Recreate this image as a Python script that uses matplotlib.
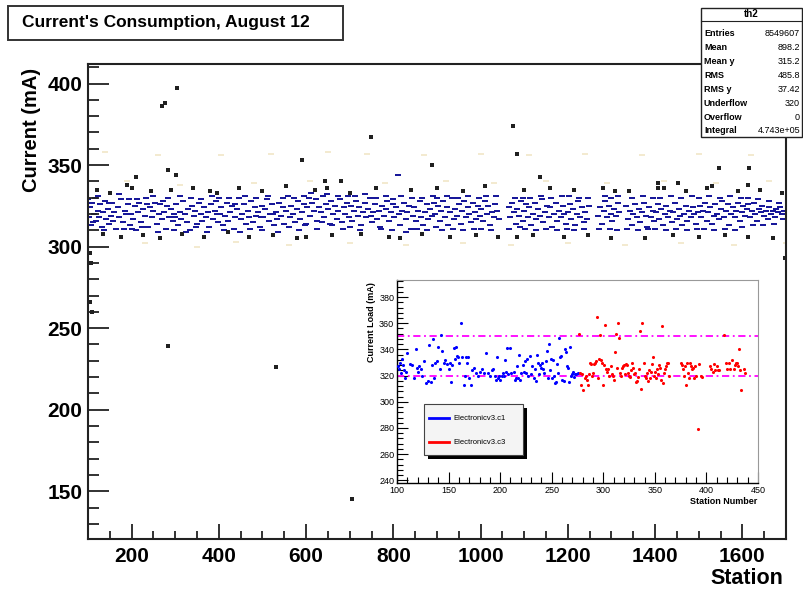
import matplotlib
matplotlib.use("Agg")
import matplotlib.pyplot as plt
from matplotlib.patches import Rectangle
from matplotlib.ticker import MultipleLocator
from matplotlib.lines import Line2D

plt.rcParams['font.family'] = ['Liberation Sans', 'DejaVu Sans']

# ---- main 2D histogram: occupied cells (station, current in mA) ----
navy_pts = [
    (102,318),(105,324),(108,313),(110,327),(113,320),(116,330),(119,316),(122,322),(125,318),(128,326),
    (131,312),(134,321),(138,328),(141,317),(145,323),(149,314),(152,319),(156,327),(160,321),(164,311),
    (168,324),(172,318),(176,329),(180,315),(184,322),(188,320),(192,326),(196,313),(199,320),
    (203,317),(207,325),(210,310),(214,321),(218,327),(222,315),(226,323),(230,319),(234,330),(238,312),
    (242,324),(246,318),(250,322),(254,327),(258,314),(262,320),(266,326),(270,317),(274,321),(278,311),
    (282,325),(286,318),(290,323),(294,316),(298,320),
    (302,326),(306,313),(310,321),(314,317),(318,328),(322,320),(326,315),(330,323),(334,310),(338,325),
    (342,319),(346,322),(350,314),(354,327),(358,320),(362,316),(366,324),(370,318),(374,321),(378,312),
    (382,326),(386,317),(390,322),(394,328),(398,315),
    (402,320),(406,324),(410,313),(414,319),(418,327),(422,316),(426,321),(430,325),(434,311),(438,318),
    (442,323),(446,330),(450,317),(454,320),(458,326),(462,314),(466,322),(470,318),(474,328),(478,315),
    (482,324),(486,319),(490,321),(494,312),(498,325),
    (502,318),(506,323),(510,329),(514,316),(518,320),(522,326),(526,313),(530,321),(534,317),(538,327),
    (542,319),(546,324),(550,314),(554,322),(558,331),(562,318),(566,325),(570,320),(574,315),(578,323),
    (582,328),(586,317),(590,321),(594,326),(598,313),
    (602,324),(606,330),(610,319),(614,327),(618,322),(622,329),(626,316),(630,324),(634,321),(638,331),
    (642,318),(646,326),(650,323),(654,314),(658,328),(662,320),(666,325),(670,317),(674,322),(678,329),
    (682,315),(686,324),(690,320),(694,327),(698,318),
    (702,325),(706,316),(710,322),(714,328),(718,319),(722,324),(726,313),(730,321),(734,327),(738,318),
    (742,323),(746,330),(750,315),(754,321),(758,326),(762,317),(766,322),(770,312),(774,325),(778,319),
    (782,323),(786,328),(790,316),(794,321),(798,326),
    (802,318),(806,324),(810,344),(812,320),(816,313),(820,322),(824,327),(828,317),(832,321),(836,325),
    (840,311),(844,319),(848,324),(852,316),(856,322),(860,328),(864,318),(868,313),(872,321),(876,326),
    (880,317),(884,323),(888,319),(892,327),(896,320),
    (902,325),(906,316),(910,322),(914,328),(918,318),(922,324),(926,313),(930,321),(934,330),(938,317),
    (942,323),(946,319),(950,326),(954,314),(958,322),(962,328),(966,318),(970,324),(974,320),(978,315),
    (982,327),(986,321),(990,317),(994,325),(998,319),
    (1002,323),(1006,316),(1010,328),(1014,320),(1018,325),(1022,313),(1026,321),(1030,318),(1034,326),
    (1038,322),(1042,317),(1064,324),(1068,318),(1072,327),(1076,321),(1080,314),(1084,323),(1088,319),
    (1092,328),(1096,316),
    (1100,322),(1104,326),(1108,318),(1112,324),(1116,313),(1120,320),(1124,327),(1128,317),(1132,323),
    (1136,319),(1140,329),(1144,315),(1148,321),(1152,325),(1156,318),(1160,324),(1164,312),(1168,320),
    (1172,327),(1176,316),(1180,322),(1184,318),(1188,325),(1192,320),(1196,314),
    (1200,321),(1204,326),(1208,317),(1212,323),(1216,313),(1220,320),(1224,328),(1228,318),(1232,324),
    (1236,315),(1240,321),(1244,317),(1248,325),(1270,319),(1274,324),(1278,314),(1282,322),(1286,328),
    (1290,318),(1294,325),(1298,320),
    (1302,316),(1306,323),(1310,319),(1314,327),(1318,321),(1334,325),(1338,317),(1342,322),(1346,313),
    (1350,320),(1354,326),(1358,318),(1362,323),(1366,315),(1370,321),(1374,327),(1378,319),(1382,312),
    (1386,324),(1390,318),(1394,322),(1398,316),
    (1402,321),(1406,326),(1410,317),(1414,323),(1418,313),(1422,320),(1426,325),(1430,318),(1434,322),
    (1438,315),(1442,321),(1446,327),(1450,317),(1454,323),(1458,319),(1462,313),(1466,320),(1470,325),
    (1474,316),(1478,322),(1482,318),(1486,324),(1490,320),(1494,314),(1498,321),
    (1502,325),(1506,318),(1510,322),(1514,327),(1518,316),(1522,321),(1526,324),(1530,314),(1534,319),
    (1538,326),(1542,320),(1546,317),(1550,323),(1554,328),(1558,318),(1562,322),(1566,326),(1570,313),
    (1574,320),(1578,324),(1582,318),(1586,322),(1590,327),(1594,316),(1598,321),
    (1602,325),(1606,319),(1610,323),(1614,326),(1618,318),(1622,322),(1626,327),(1630,320),(1634,316),
    (1638,323),(1642,321),(1646,325),(1650,319),(1654,322),(1658,317),(1662,324),(1666,320),(1670,322),
    (1674,318),(1678,323),(1682,321),(1686,324),(1690,320),(1694,317),
    # sparser cells at the edges of the band
    (100,329),(112,315),(124,331),(136,310),(148,327),(158,316),(170,332),(182,311),(194,329),
    (200,311),(212,329),(224,312),(236,326),(248,331),(260,309),(272,328),(284,330),(296,310),
    (300,318),(312,331),(324,309),(336,330),(348,312),(360,329),(372,309),(384,331),(396,320),
    (400,330),(412,310),(424,330),(436,326),(448,309),(460,331),(472,311),(484,330),(496,318),
    (500,310),(512,331),(524,320),(536,309),(548,330),(560,312),(572,330),(584,310),(596,331),
    (600,314),(612,333),(624,311),(636,315),(648,332),(660,313),(672,331),(684,311),(696,331),
    (700,312),(712,331),(724,310),(736,332),(748,319),(760,330),(772,311),(784,331),(796,310),
    (800,329),(818,331),(830,309),(842,330),(854,311),(866,330),(878,310),(890,331),(898,312),
    (900,330),(912,310),(924,331),(936,311),(948,330),(960,310),(972,331),(984,311),(996,330),
    (1000,311),(1012,331),(1024,310),(1036,331),(1066,311),(1078,330),(1090,312),(1098,330),
    (1102,311),(1114,330),(1126,310),(1138,331),(1150,311),(1162,330),(1174,310),(1186,331),(1198,311),
    (1202,331),(1214,310),(1226,330),(1238,311),(1246,330),(1272,311),(1284,331),(1296,311),
    (1300,330),(1312,310),(1316,331),(1336,311),(1348,330),(1360,310),(1372,331),(1384,311),(1396,330),
    (1400,311),(1412,330),(1424,310),(1436,331),(1448,311),(1460,330),(1472,310),(1484,331),(1496,311),
    (1500,330),(1512,311),(1524,331),(1536,310),(1548,330),(1560,311),(1572,331),(1584,310),(1596,330),
    (1600,312),(1612,330),(1624,313),(1636,329),(1648,313),(1660,328),(1672,314),(1684,327),(1696,322),
]

black_pts = [
    (104,296),(106,290),(104,266),(110,260),(270,386),(276,388),(304,397),(283,347),(301,344),(283,239),
    (210,343),(189,338),(380,334),(531,226),(590,353),(644,340),(648,336),(705,145),(749,367),(889,350),
    (1075,374),(1083,357),(1137,343),(1309,334),(1453,339),(1407,339),(1407,336),(1531,337),(1547,348),
    (1616,348),(1612,338),(1698,293),
    (120,335),(135,308),(150,333),(175,306),(200,336),(225,307),(245,334),(265,305),(290,335),(315,308),
    (340,336),(365,306),(395,333),(420,309),(445,336),(470,306),(500,334),(525,307),(555,337),(580,305),
    (599,306),(620,335),(660,307),(680,340),(700,333),(725,308),(760,336),(790,306),(816,305),(840,335),
    (865,308),(900,336),(930,306),(960,334),(990,307),(1010,337),(1040,306),(1084,306),(1100,335),
    (1120,307),(1160,336),(1190,306),(1215,335),(1245,307),(1280,336),(1300,305),(1340,334),(1377,305),
    (1420,336),(1440,307),(1470,334),(1500,306),(1520,336),(1560,307),(1590,334),(1612,306),(1640,335),
    (1670,305),(1690,333),
]

pale_pts = [
    (140,358),(190,340),(230,302),(260,356),(310,338),(350,300),(405,356),(440,303),(480,339),(520,357),
    (560,301),(610,340),(650,358),(700,302),(740,357),(780,339),(830,301),(870,356),(920,340),(960,302),
    (1000,357),(1030,339),(1070,301),(1110,356),(1150,340),(1200,302),(1240,357),(1290,339),(1330,301),
    (1370,356),(1420,340),(1460,302),(1500,357),(1540,339),(1580,301),(1620,356),(1660,340),(1700,302),
]

# ---- inset: current load per station, two electronics versions ----
c1_pts = [
    (101,327),(102,325),(103,330),(104,322),(105,333),(106,328),(107,324),(108,318),(109,323),(110,337),
    (113,329),(115,328),(116,318),(118,340),(119,326),(120,323),(121,327),(123,325),(124,320),(126,331),
    (128,314),(130,316),(131,343),(133,315),(134,328),(135,348),(136,318),(137,330),(139,331),(140,342),
    (142,325),(143,351),(144,339),(146,330),(147,332),(148,329),(150,325),(151,330),(152,315),(153,328),
    (155,341),(156,333),(157,342),(158,335),(159,334),(160,330),
    (162,360),(163,334),(165,313),(166,320),(167,334),(168,330),(169,334),(170,318),(172,313),(173,324),
    (175,326),(177,322),(179,320),(180,323),
    (182,325),(184,322),(186,337),(188,322),(190,320),(192,324),(193,325),(195,320),(196,317),(197,334),
    (198,318),(199,320),(200,317),
    (202,320),(203,322),(204,320),(205,332),(206,323),(207,341),(208,321),(210,341),(211,322),(213,323),
    (214,317),(215,318),(216,327),(217,318),(218,336),(219,317),(220,322),
    (222,328),(223,323),(224,331),(225,322),(226,333),(227,320),(229,335),(230,321),(231,327),(233,318),
    (234,325),(235,316),(236,336),(237,330),(238,321),(239,328),(240,326),
    (241,330),(242,325),(243,322),(244,331),(245,339),(246,318),(247,344),(248,324),(249,333),(250,318),
    (251,332),(252,320),(253,314),(254,315),(255,329),(256,322),(257,349),(258,334),(259,335),(260,317),
    (262,316),(263,340),(264,338),(265,327),(266,326),(267,315),(268,342),(269,320),(270,321),(271,323),
    (272,319),(273,321),(274,321),(275,322),
]

c3_pts = [
    (276,352),(277,322),(278,313),(279,321),(280,309),(282,318),(283,320),(284,317),(285,313),(286,321),
    (287,330),(288,329),(289,320),(290,322),(291,329),(292,330),(293,331),(294,365),(295,318),(296,333),
    (297,351),(298,332),(299,330),(300,313),(301,328),(302,359),(303,325),(304,323),(305,325),(306,320),
    (307,327),(308,321),(309,320),(310,317),(311,338),(312,352),(313,326),(314,360),(315,349),(316,322),
    (317,320),(318,326),(319,327),(320,328),(321,321),(322,329),(323,328),(324,322),(325,320),(326,319),
    (327,324),(328,330),(329,326),(330,321),(331,322),(332,315),(333,316),(334,319),(335,325),(336,354),
    (337,310),(338,360),(339,330),(340,320),(341,318),(342,322),(343,316),(344,324),(345,318),(346,323),
    (347,329),(348,334),(349,320),(350,323),(351,318),(352,325),(353,321),(354,328),(355,326),(356,317),
    (357,358),(358,314),(359,322),(360,325),(361,327),(362,330),(363,330),(364,320),
    (375,330),(376,328),(377,325),(378,320),(379,327),(380,313),(381,330),(382,322),(383,318),(384,330),
    (385,327),(386,325),(387,326),(388,318),(389,327),(390,320),(392,279),(393,329),(395,320),(396,319),
    (403,327),(404,325),(406,323),(407,329),(408,324),(410,327),(411,324),(412,324),(417,351),(419,330),
    (420,325),(422,330),(423,325),(425,332),(427,325),(428,328),(429,330),(430,330),(431,327),(432,340),
    (433,324),(434,309),(436,325),(437,322),
]
limit_levels = [320, 350]

stats_names = ["Entries", "Mean", "Mean y", "RMS", "RMS y", "Underflow", "Overflow", "Integral"]
stats_values = ["8549607", "898.2", "315.2", "485.8", "37.42", "320", "0", "4.743e+05"]

W, H = 804, 590
fig = plt.figure(figsize=(W / 100, H / 100), dpi=100)

def fx(px):
    return px / W

def fy(py):
    return 1 - py / H

# main frame
ax = fig.add_axes([fx(88), fy(538.5), fx(786) - fx(88), fy(64) - fy(538.5)])
cell = [(-1.4, -0.75), (1.4, -0.75), (1.4, 0.75), (-1.4, 0.75)]
px_, py_ = zip(*pale_pts)
ax.scatter(px_, py_, marker=cell, s=14, color='#f3ead0', linewidths=0)
nx, ny = zip(*navy_pts)
ax.scatter(nx, ny, marker=cell, s=16, color='#18189a', linewidths=0)
bx, by = zip(*black_pts)
ax.scatter(bx, by, marker='s', s=6, color='#202020', linewidths=0)

ax.set_xlim(100, 1700)
ax.set_ylim(121, 412)
ax.xaxis.set_major_locator(MultipleLocator(200))
ax.xaxis.set_minor_locator(MultipleLocator(50))
ax.yaxis.set_major_locator(MultipleLocator(50))
ax.yaxis.set_minor_locator(MultipleLocator(10))
ax.tick_params(which='both', direction='in', top=False, right=False, width=1.3, color='#222222')
ax.tick_params(which='major', length=15, labelsize=15, pad=4)
ax.tick_params(which='minor', length=8)
ax.tick_params(axis='x', which='major', length=11, pad=6)
ax.tick_params(axis='x', which='minor', length=6)
for lab in ax.get_xticklabels() + ax.get_yticklabels():
    lab.set_fontweight('bold')
for sp in ax.spines.values():
    sp.set_linewidth(1.5)
    sp.set_color('#222222')

fig.text(fx(32), fy(130), "Current (mA)", rotation=90, ha='center', va='center',
         fontsize=14.5, fontweight='bold')
fig.text(fx(783), fy(578), "Station", ha='right', va='center', fontsize=15.5, fontweight='bold')

# title box
fig.patches.append(Rectangle((fx(8), fy(40)), fx(343) - fx(8), fy(6) - fy(40),
                             transform=fig.transFigure, facecolor='white',
                             edgecolor='#333333', linewidth=1.4))
fig.text(fx(22), fy(23), "Current's Consumption, August 12", ha='left', va='center',
         fontsize=12.5, fontweight='bold')

# statistics box
fig.patches.append(Rectangle((fx(701), fy(137)), fx(802) - fx(701), fy(8) - fy(137),
                             transform=fig.transFigure, facecolor='white',
                             edgecolor='#222222', linewidth=1.0, zorder=5))
fig.add_artist(Line2D([fx(701), fx(802)], [fy(21), fy(21)], color='#222222', lw=0.8, zorder=6))
fig.text(fx(751.5), fy(14), "th2", ha='center', va='center', fontsize=7, fontweight='bold', zorder=7)
for i, (name, val) in enumerate(zip(stats_names, stats_values)):
    yy = fy(33 + 14 * i)
    fig.text(fx(704), yy, name, ha='left', va='center', fontsize=6.5, fontweight='bold', zorder=7)
    fig.text(fx(800), yy, val, ha='right', va='center', fontsize=6.5, zorder=7)

# inset
ax2 = fig.add_axes([fx(397), fy(483), fx(758) - fx(397), fy(280) - fy(483)])
ax2.axhline(limit_levels[0], color='#ff00ff', lw=1.3, ls=(0, (4, 2, 1, 2)))
ax2.axhline(limit_levels[1], color='#ff00ff', lw=1.3, ls=(0, (4, 2, 1, 2)))
c1x, c1y = zip(*c1_pts)
ax2.scatter(c1x, c1y, s=5, color='#0000ff', linewidths=0, zorder=3)
c3x, c3y = zip(*c3_pts)
ax2.scatter(c3x, c3y, s=5, color='#ff0000', linewidths=0, zorder=3)
ax2.set_xlim(100, 450)
ax2.set_ylim(238, 393)
ax2.xaxis.set_major_locator(MultipleLocator(50))
ax2.xaxis.set_minor_locator(MultipleLocator(10))
ax2.yaxis.set_major_locator(MultipleLocator(20))
ax2.yaxis.set_minor_locator(MultipleLocator(4))
ax2.tick_params(which='both', direction='in', top=False, right=False, width=0.8, labelsize=6.5, pad=2)
ax2.tick_params(which='major', length=8)
ax2.tick_params(which='minor', length=4)
for sp in ['top', 'right']:
    ax2.spines[sp].set_color('#999999')
    ax2.spines[sp].set_linewidth(0.8)
for sp in ['left', 'bottom']:
    ax2.spines[sp].set_linewidth(1.0)
fig.text(fx(372), fy(322), "Current Load (mA)", rotation=90, ha='center', va='center',
         fontsize=6.5, fontweight='bold')
fig.text(fx(757), fy(501), "Station Number", ha='right', va='center', fontsize=6.5, fontweight='bold')

# inset legend with shadow
ax2.add_patch(Rectangle((0.086, 0.118), 0.274, 0.251, transform=ax2.transAxes,
                        facecolor='black', edgecolor='none', zorder=4))
ax2.add_patch(Rectangle((0.075, 0.138), 0.274, 0.251, transform=ax2.transAxes,
                        facecolor='#f4f4f4', edgecolor='#444444', lw=0.8, zorder=5))
ax2.plot([0.09, 0.145], [0.32, 0.32], transform=ax2.transAxes, color='#0000ff', lw=2, zorder=6)
ax2.plot([0.09, 0.145], [0.20, 0.20], transform=ax2.transAxes, color='#ff0000', lw=2, zorder=6)
ax2.text(0.155, 0.32, "Electronicv3.c1", transform=ax2.transAxes, fontsize=5.5, va='center', zorder=6)
ax2.text(0.155, 0.20, "Electronicv3.c3", transform=ax2.transAxes, fontsize=5.5, va='center', zorder=6)

fig.savefig("out.png", dpi=100)
